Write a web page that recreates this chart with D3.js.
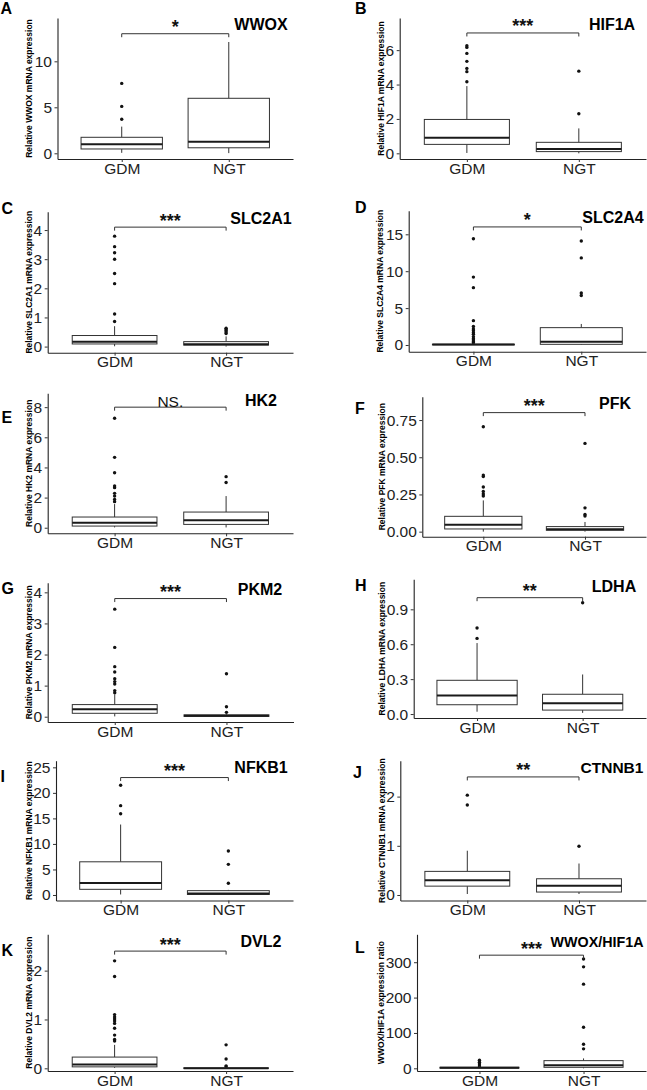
<!DOCTYPE html>
<html><head><meta charset="utf-8">
<script src="https://cdn.jsdelivr.net/npm/d3@7"></script>
<style>
body{margin:0;background:#fff;}
svg{display:block;}
text{font-family:"Liberation Sans",Arial,sans-serif;}
</style>
</head><body>
<svg id="chart" width="647" height="1090"></svg>
<script>
// ---------------- data ----------------
const groups = ["GDM", "NGT"];
const panelLetters = ["A","B","C","D","E","F","G","H","I","J","K","L"];
const genes = ["WWOX","HIF1A","SLC2A1","SLC2A4","HK2","PFK","PKM2","LDHA","NFKB1","CTNNB1","DVL2","WWOX/HIF1A"];
const yTitles = [
  "Relative WWOX mRNA expression","Relative HIF1A mRNA expression",
  "Relative SLC2A1 mRNA expression","Relative SLC2A4 mRNA expression",
  "Relative HK2 mRNA expression","Relative PFK mRNA expression",
  "Relative PKM2 mRNA expression","Relative LDHA mRNA expression",
  "Relative NFKB1 mRNA expression","Relative CTNNB1 mRNA expression",
  "Relative DVL2 mRNA expression","WWOX/HIF1A expression ratio"
];
const sigLabels = ["*","***","***","*","NS.","***","***","**","***","**","***","***"];
const bracketValues = [13, 7, 4.1, 16, 8, 0.8, 3.8, 1.0, 23, 2.4, 2.4, 320];
const yTicks = [
  [0,5,10],[0,2,4,6],[0,1,2,3,4],[0,5,10,15],[0,2,4,6,8],[0,0.25,0.5,0.75],
  [0,1,2,3,4],[0,0.3,0.6,0.9],[0,5,10,15,20,25],[0,1,2],[0,1,2],[0,100,200,300]
];
const yTickFormats = ["d","d","d","d","d",".2f","d",".1f","d","d","d","d"];
const yDomains = [
  [-0.62,14.71],[-0.33,7.87],[-0.21,4.63],[-0.91,18.2],[-0.37,8.92],[-0.034,0.907],
  [-0.17,4.31],[-0.034,1.158],[-1.08,26.3],[-0.112,2.73],[-0.055,2.744],[-7.6,379]
];
// box stats: [lower whisker, q1, median, q3, upper whisker]
const gdmStats = [
  [0.05,0.47,0.98,1.74,2.9],
  [0.02,0.52,0.91,1.97,3.91],
  [0.01,0.09,0.17,0.38,0.7],
  [0.0,0.02,0.05,0.1,0.2],
  [0.02,0.11,0.33,0.71,1.57],
  [0.0,0.018,0.047,0.103,0.21],
  [0.01,0.11,0.24,0.39,0.72],
  [0.02,0.08,0.16,0.29,0.61],
  [0.1,1.11,2.35,6.5,13.8],
  [0.02,0.18,0.3,0.48,0.9],
  [0.01,0.03,0.08,0.23,0.48],
  [0.1,0.5,1.5,3.0,6.0]
];
const ngtStats = [
  [0.02,0.6,1.26,5.98,12.1],
  [0.0,0.1,0.25,0.64,1.45],
  [0.0,0.05,0.08,0.17,0.35],
  [0.0,0.09,0.45,2.35,2.85],
  [0.02,0.22,0.49,1.04,2.1],
  [0.0,0.009,0.016,0.034,0.065],
  [0.0,0.01,0.03,0.06,0.1],
  [0.01,0.034,0.092,0.17,0.34],
  [0.05,0.1,0.3,0.85,1.0],
  [0.02,0.06,0.19,0.33,0.64],
  [0.0,0.0,0.003,0.008,0.015],
  [0.0,2.8,8.5,21.7,28]
];
const gdmOutliers = [
  [3.7,5.1,7.6],
  [4.16,4.75,4.94,5.35,5.81,6.16,6.26],
  [0.86,1.12,2.16,2.51,3.0,3.22,3.43,3.79],
  [0.3,0.45,0.68,0.86,1.13,1.45,1.67,1.94,2.17,2.5,3.3,7.77,9.2,14.4],
  [1.73,1.88,2.1,2.28,2.66,2.77,3.65,4.67,7.26],
  [0.24,0.253,0.27,0.3,0.37,0.38,0.705],
  [0.77,0.84,1.05,1.13,1.22,1.44,1.61,2.23,3.46],
  [0.65,0.74],
  [15.9,17.5,21.5],
  [1.83,2.03],
  [0.56,0.59,0.68,0.82,0.92,0.97,1.01,1.05,1.1,1.88,2.2],
  [6.6,12,17,22.6]
];
const ngtOutliers = [
  [],
  [2.3,4.78],
  [0.45,0.5,0.55,0.6,0.63],
  [6.7,7.05,11.8,14.1],
  [3.0,3.39],
  [0.105,0.116,0.16,0.593],
  [0.14,0.32,1.38],
  [0.957],
  [2.3,6.0,8.6],
  [0.99],
  [0.03,0.05,0.19,0.48],
  [55,68,116,238,287,309]
];

// ---------------- layout ----------------
const layout = [
  {x0:57.5, x1:293, y0:18,    y1:159,   tx:29.3,  gx:261, gs:16,   lx:0.5, ly:13.5},
  {x0:399.7,x1:646, y0:18,    y1:159,   tx:381.3, gx:612, gs:16,   lx:355, ly:13.5},
  {x0:47.7, x1:293, y0:211.7, y1:352.7, tx:29.3,  gx:261, gs:16,   lx:1.5, ly:213.5},
  {x0:408.7,x1:646, y0:210.7, y1:351.7, tx:380.3, gx:613, gs:16,   lx:355, ly:212.5},
  {x0:47.7, x1:293, y0:393.3, y1:533.3, tx:29.3,  gx:261, gs:16,   lx:1.5, ly:422.5},
  {x0:422.3,x1:646, y0:396.7, y1:536.7, tx:382.3, gx:615, gs:16,   lx:355, ly:413.5},
  {x0:47.7, x1:293.5,y0:582.7,y1:722,   tx:29.3,  gx:260, gs:16,   lx:1.5, ly:593.5},
  {x0:413.7,x1:646, y0:579.3, y1:718,   tx:382.3, gx:614, gs:16,   lx:355, ly:590.5},
  {x0:56,   x1:293, y0:760.7, y1:900.5, tx:29.3,  gx:261, gs:16,   lx:0.5, ly:782},
  {x0:400.3,x1:646, y0:760.7, y1:900.5, tx:382.3, gx:612, gs:15.5, lx:353, ly:777.5},
  {x0:47.7, x1:293, y0:934.3, y1:1071,  tx:29.3,  gx:261, gs:16,   lx:1.5, ly:955.5},
  {x0:417,  x1:646, y0:934.3, y1:1071,  tx:381.3, gx:597, gs:14.3, lx:355, ly:952.5}
];

const svg = d3.select("#chart");
const lineCol = "#333";

panelLetters.forEach((letter, i) => {
  const L = layout[i];
  const g = svg.append("g");
  const x = d3.scalePoint().domain(groups).range([L.x0, L.x1]).padding(0.6);
  const y = d3.scaleLinear().domain(yDomains[i]).range([L.y1, L.y0]);
  const bw = x.step() * 0.76;

  // axes
  const ya = g.append("g").attr("transform", `translate(${L.x0},0)`)
    .call(d3.axisLeft(y).tickValues(yTicks[i]).tickFormat(d3.format(yTickFormats[i]))
      .tickSize(3).tickSizeOuter(0).tickPadding(2.5));
  const xa = g.append("g").attr("transform", `translate(0,${L.y1})`)
    .call(d3.axisBottom(x).tickSize(3).tickSizeOuter(0).tickPadding(0.6));
  [ya, xa].forEach(a => {
    a.attr("font-family", null).attr("font-size", null);
    a.selectAll("path.domain").attr("stroke", "#222").attr("stroke-width", 1.1);
    a.selectAll(".tick line").attr("stroke", "#333").attr("stroke-width", 1);
    a.selectAll(".tick text").attr("fill", "#222").style("font-size", "15.5px");
  });

  // boxes
  const stats = [gdmStats[i], ngtStats[i]];
  const outs = [gdmOutliers[i], ngtOutliers[i]];
  groups.forEach((grp, k) => {
    const cx = x(grp);
    const s = stats[k];
    g.append("g").selectAll("circle").data(outs[k]).join("circle")
      .attr("cx", cx).attr("cy", d => y(d)).attr("r", 1.7).attr("fill", "#111");
    g.append("line").attr("x1", cx).attr("x2", cx).attr("y1", y(s[3])).attr("y2", y(s[4]))
      .attr("stroke", lineCol).attr("stroke-width", 1);
    g.append("line").attr("x1", cx).attr("x2", cx).attr("y1", y(s[1])).attr("y2", y(s[0]))
      .attr("stroke", lineCol).attr("stroke-width", 1);
    g.append("rect").attr("x", cx - bw / 2).attr("width", bw)
      .attr("y", y(s[3])).attr("height", Math.max(0, y(s[1]) - y(s[3])))
      .attr("fill", "#fff").attr("stroke", lineCol).attr("stroke-width", 1);
    g.append("line").attr("x1", cx - bw / 2).attr("x2", cx + bw / 2)
      .attr("y1", y(s[2])).attr("y2", y(s[2]))
      .attr("stroke", "#1a1a1a").attr("stroke-width", 2);
  });

  // significance bracket
  const by = y(bracketValues[i]);
  const xg = x(groups[0]), xn = x(groups[1]);
  g.append("path")
    .attr("d", `M${xg},${by + 3.5}V${by}H${xn}V${by + 3.5}`)
    .attr("fill", "none").attr("stroke", lineCol).attr("stroke-width", 1);
  const isStar = sigLabels[i].startsWith("*");
  g.append("text").attr("x", (xg + xn) / 2).attr("y", by - 0.5)
    .attr("text-anchor", "middle")
    .style("font-size", isStar ? "18px" : "15.5px")
    .style("font-weight", isStar ? "bold" : "normal")
    .attr("fill", "#111").text(sigLabels[i]);

  // gene title
  g.append("text").attr("x", L.gx).attr("y", L.y0 + 12.3)
    .attr("text-anchor", "middle").style("font-size", L.gs + "px").style("font-weight", "bold")
    .attr("fill", "#000").text(genes[i]);

  // y axis title
  g.append("text")
    .attr("transform", `translate(${L.tx},${(L.y0 + L.y1) / 2}) rotate(-90)`)
    .attr("text-anchor", "middle").attr("dy", "0.35em")
    .style("font-size", "8.5px").style("font-weight", "bold").attr("fill", "#000")
    .text(yTitles[i]);

  // panel letter
  g.append("text").attr("x", L.lx).attr("y", L.ly)
    .style("font-size", "16px").style("font-weight", "bold").attr("fill", "#000")
    .text(letter);
});
</script>
</body></html>
